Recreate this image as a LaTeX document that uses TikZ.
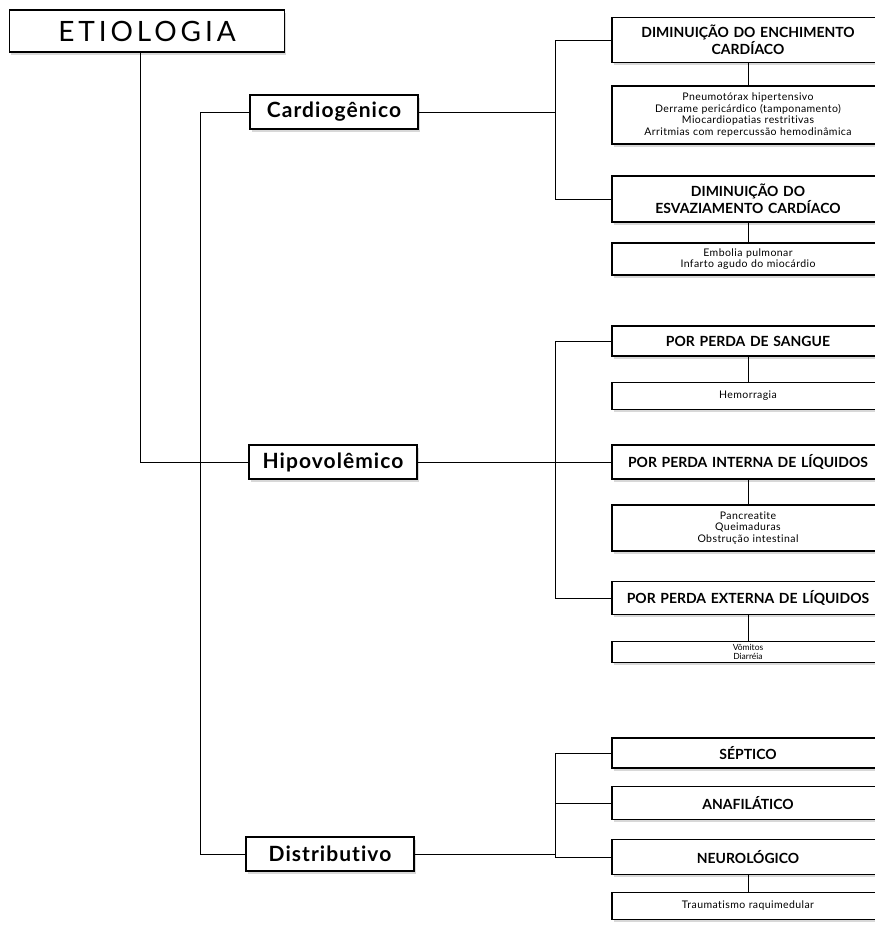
\documentclass[tikz,border=0pt]{standalone}
\usepackage{fontspec}
\setmainfont{Lato}[Ligatures=NoCommon]
\usetikzlibrary{shadows}

\begin{document}
\begin{tikzpicture}[
    x = 1pt, y = -1pt,
    bx/.style = {draw, line width = 1.2pt, fill = white, inner sep = 2pt, align = center,
                 drop shadow = {shadow xshift = 1.5pt, shadow yshift = -2.5pt, fill = black!30}},
    ttl/.style = {bx, minimum width = 275pt, minimum height = 42pt,
                  font = \fontsize{28}{30}\selectfont\addfontfeatures{LetterSpace=14}},
    cat/.style = {bx, minimum width = 168pt, minimum height = 34pt,
                  font = \bfseries\fontsize{21}{24}\selectfont\addfontfeatures{LetterSpace=5}},
    hd/.style = {bx, text width = 268pt, minimum height = 30pt,
                 font = \bfseries\fontsize{14}{15.5}\selectfont},
    sub/.style = {bx, text width = 268pt,
                  font = \fontsize{10.5}{11.5}\selectfont\addfontfeatures{LetterSpace=4}},
    ln/.style = {line width = 0.9pt},
]
\useasboundingbox (0,0) rectangle (875,927);

% left: title and the three kinds
\node[ttl] (etio) at (147,31) {ETIOLOGIA};
\node[cat] (cardio) at (334,112) {Cardiogênico};
\node[cat] (hipo) at (333,462) {Hipovolêmico};
\node[cat] (distr) at (330,854) {Distributivo};

% right column (cut off at the page edge)
\node[hd, minimum height = 45pt] (ench) at (748,40) {DIMINUIÇÃO DO ENCHIMENTO\\CARDÍACO};
\node[sub, minimum height = 58pt] (enchl) at (748,115) {Pneumotórax hipertensivo\\Derrame pericárdico (tamponamento)\\Miocardiopatias restritivas\\Arritmias com repercussão hemodinâmica};
\node[hd, minimum height = 46pt] (esv) at (748,199) {DIMINUIÇÃO DO\\ESVAZIAMENTO CARDÍACO};
\node[sub, minimum height = 32pt] (esvl) at (748,259) {Embolia pulmonar\\Infarto agudo do miocárdio};

\node[hd] (sang) at (748,341) {POR PERDA DE SANGUE};
\node[sub, minimum height = 27pt] (sangl) at (748,396) {Hemorragia};
\node[hd, minimum height = 34pt] (int) at (748,462) {POR PERDA INTERNA DE LÍQUIDOS};
\node[sub, minimum height = 46pt] (intl) at (748,528) {Pancreatite\\Queimaduras\\Obstrução intestinal};
\node[hd, minimum height = 33pt] (ext) at (748,598) {POR PERDA EXTERNA DE LÍQUIDOS};
\node[sub, minimum height = 21pt, font = \fontsize{8.5}{8.5}\selectfont] (extl) at (748,652) {Vômitos\\Diarréia};

\node[hd] (sep) at (748,753) {SÉPTICO};
\node[hd, minimum height = 33pt] (ana) at (748,803) {ANAFILÁTICO};
\node[hd, minimum height = 35pt] (neu) at (748,857) {NEUROLÓGICO};
\node[sub, minimum height = 27pt] (neul) at (748,906) {Traumatismo raquimedular};

% trunks
\coordinate (t2) at (200,0);
\coordinate (t3) at (555,0);

\draw[ln] ([xshift = -7pt]etio.south) |- (hipo.west);
\draw[ln] (cardio.west) -- (cardio.west -| t2) |- (distr.west);

\draw[ln] (cardio.east) -- (cardio.east -| t3);
\draw[ln] (ench.west) -- (ench.west -| t3) |- (esv.west);
\draw[ln] (ench.south) -- (enchl.north);
\draw[ln] (esv.south) -- (esvl.north);

\draw[ln] (hipo.east) -- (int.west);
\draw[ln] (sang.west) -- (sang.west -| t3) |- (ext.west);
\draw[ln] (sang.south) -- (sangl.north);
\draw[ln] (int.south) -- (intl.north);
\draw[ln] (ext.south) -- (extl.north);

\draw[ln] (distr.east) -- (distr.east -| t3);
\draw[ln] (sep.west) -- (sep.west -| t3) |- (neu.west);
\draw[ln] (ana.west) -- (ana.west -| t3);
\draw[ln] (neu.south) -- (neul.north);

\end{tikzpicture}
\end{document}
